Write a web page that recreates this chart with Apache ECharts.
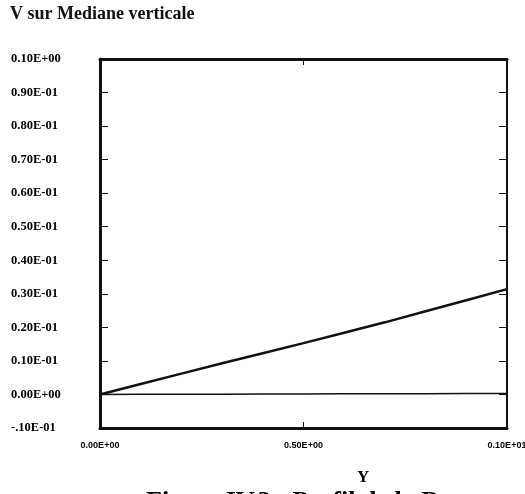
<!DOCTYPE html>
<html>
<head>
<meta charset="utf-8">
<script src="https://cdn.jsdelivr.net/npm/echarts@6/dist/echarts.min.js"></script>
<style>
html,body{margin:0;padding:0;background:#fff;}
#c{width:525px;height:494px;}
</style>
</head>
<body>
<div id="c"></div>
<script>
var xValues = [0, 0.1, 0.2, 0.3, 0.4, 0.5, 0.6, 0.7, 0.8, 0.9, 1.0];
var vSeries1 = [0, 0.0031, 0.0062, 0.0093, 0.0123, 0.0153, 0.0184, 0.0215, 0.0248, 0.0281, 0.0314];
var vSeries2 = [0, 0.00003, 0.00006, 0.00009, 0.00012, 0.00015, 0.00018, 0.00021, 0.00024, 0.00027, 0.0003];
var yTickLabels = ['-.10E-01','0.00E+00','0.10E-01','0.20E-01','0.30E-01','0.40E-01','0.50E-01','0.60E-01','0.70E-01','0.80E-01','0.90E-01','0.10E+00'];
var xTickLabels = ['0.00E+00','0.50E+00','0.10E+01'];
var titleText = 'V sur Mediane verticale';
var xName = 'Y';
var captionText = 'Figure IV.3 : Profil de la D';

var chart = echarts.init(document.getElementById('c'), null, {renderer:'canvas'});
var black = '#111';
function pairs(xs, ys){ return xs.map(function(x,i){ return [x, ys[i]]; }); }

chart.setOption({
  backgroundColor:'#fff',
  animation:false,
  grid:{left:100, right:18, top:59, bottom:66, containLabel:false, outerBoundsMode:'none'},
  graphic:[
    {type:'text', left:10, top:5, style:{text:titleText, font:'bold 18px "Liberation Serif"', fill:'#111'}},
    {type:'text', left:357, top:469, style:{text:xName, font:'bold 17px "Liberation Serif"', fill:'#000'}},
    {type:'text', left:146, top:489, style:{text:captionText, font:'bold 26px "Liberation Serif"', fill:'#000'}}
  ],
  xAxis:[
    {type:'value', min:0, max:1, interval:0.5, position:'bottom',
     axisLine:{show:true, onZero:false, lineStyle:{color:black, width:3}},
     axisTick:{show:true, inside:true, length:6, lineStyle:{color:black, width:1}},
     splitLine:{show:false},
     axisLabel:{show:true, margin:13, color:'#000', fontFamily:'Liberation Sans', fontWeight:'bold', fontSize:9,
       formatter:function(v){ return xTickLabels[Math.round(v/0.5)]; }}},
    {type:'value', min:0, max:1, interval:0.5, position:'top',
     axisLine:{show:true, onZero:false, lineStyle:{color:black, width:3}},
     axisTick:{show:true, inside:true, length:6, lineStyle:{color:black, width:1}},
     splitLine:{show:false}, axisLabel:{show:false}}
  ],
  yAxis:[
    {type:'value', min:-0.01, max:0.1, interval:0.01, position:'left',
     axisLine:{show:true, onZero:false, lineStyle:{color:black, width:3}},
     axisTick:{show:true, inside:true, length:8, lineStyle:{color:black, width:1}},
     splitLine:{show:false},
     axisLabel:{show:true, align:'left', margin:89, color:'#000', fontFamily:'Liberation Serif', fontWeight:'bold', fontSize:12.5,
       formatter:function(v){ return yTickLabels[Math.round((v+0.01)/0.01)]; }}},
    {type:'value', min:-0.01, max:0.1, interval:0.01, position:'right',
     axisLine:{show:true, onZero:false, lineStyle:{color:black, width:2}},
     axisTick:{show:true, inside:true, length:8, lineStyle:{color:black, width:1}},
     splitLine:{show:false}, axisLabel:{show:false}}
  ],
  series:[
    {type:'line', xAxisIndex:0, yAxisIndex:0, data:pairs(xValues, vSeries1), showSymbol:false, symbol:'none',
     lineStyle:{color:black, width:2.5}, clip:true},
    {type:'line', xAxisIndex:0, yAxisIndex:0, data:pairs(xValues, vSeries2), showSymbol:false, symbol:'none',
     lineStyle:{color:black, width:1.5}, clip:true}
  ]
});
</script>
</body>
</html>
